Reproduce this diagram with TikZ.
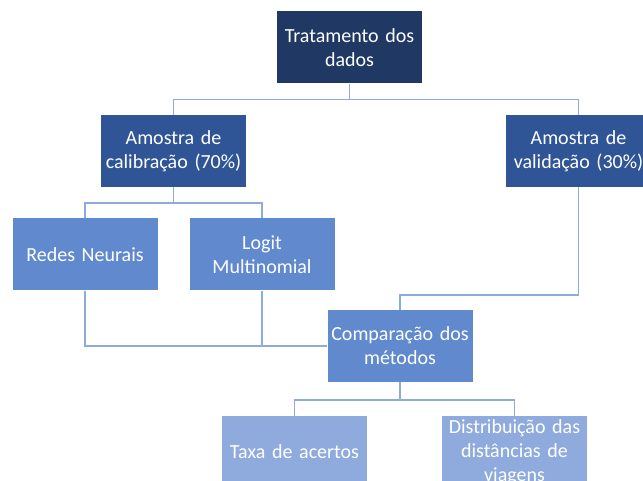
\documentclass[tikz,border=0pt]{standalone}
\usepackage{fontspec}
\setmainfont{Carlito}
\definecolor{navy}{RGB}{32,56,100}
\definecolor{midblue}{RGB}{47,85,151}
\definecolor{softblue}{RGB}{96,137,206}
\definecolor{paleblue}{RGB}{143,170,220}
\definecolor{linkblue}{RGB}{143,170,220}
\tikzset{
    box/.style={fill=#1, text=white, minimum width=145pt, minimum height=72pt,
        inner sep=0pt, text width=142pt, align=center,
        font=\fontsize{20}{24}\selectfont},
    link/.style={draw=linkblue, line width=1.6pt}
}
\begin{document}
\begin{tikzpicture}[x=1pt, y=-1pt]
        \useasboundingbox (0,0) rectangle (643,481);
        % Draw the boxes, level by level
        \node[box=navy] (trat) at (349.5, 47.5) {Tratamento dos\\dados};
        \node[box=midblue] (calib) at (173.5, 151) {Amostra de\\calibração (70\%)};
        \node[box=midblue] (valid) at (578.5, 151) {Amostra de\\validação (30\%)};
        \node[box=softblue] (redes) at (85, 254.5) {Redes Neurais};
        \node[box=softblue] (logit) at (262, 254.5) {Logit\\Multinomial};
        \node[box=softblue] (comp) at (400, 346) {Comparação dos\\métodos};
        \node[box=paleblue] (taxa) at (294.5, 452) {Taxa de acertos};
        \node[box=paleblue] (distr) at (514.5, 452) {Distribuição das\\distâncias de\\viagens};

        % Draw the tree connections
        \foreach \c in {calib, valid} {
            \draw[link] (trat.south) -- ++(0,16) -| (\c.north);
        }
        \foreach \c in {redes, logit} {
            \draw[link] (calib.south) -- ++(0,16) -| (\c.north);
            \draw[link] (\c.south) |- (comp.west);
        }
        \draw[link] (valid.south) -- ++(0,108) -| (comp.north);
        \foreach \c in {taxa, distr} {
            \draw[link] (comp.south) -- ++(0,18) -| (\c.north);
        }
    \end{tikzpicture}
\end{document}
